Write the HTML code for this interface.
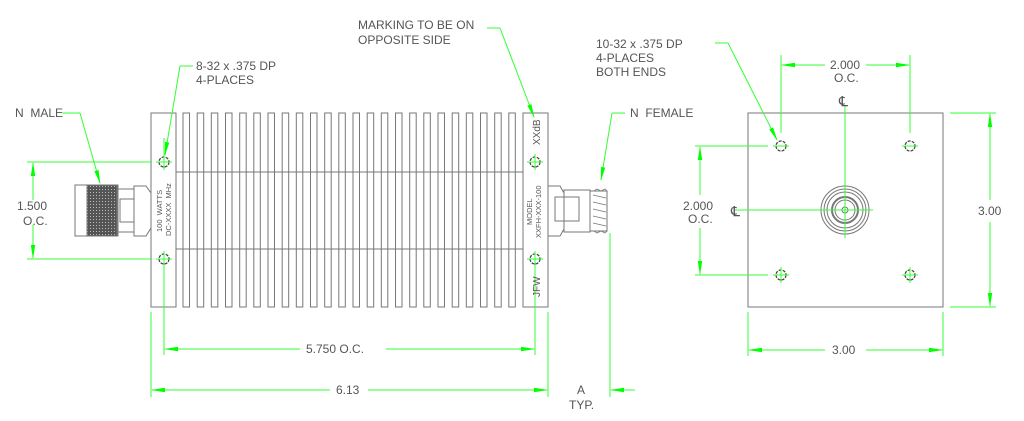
<!DOCTYPE html><html><head><meta charset="utf-8"><style>html,body{margin:0;padding:0;background:#fff}svg{display:block}text{font-family:"Liberation Sans",sans-serif;font-size:12px;fill:#555}</style></head><body>
<svg width="1024" height="421" viewBox="0 0 1024 421" xmlns="http://www.w3.org/2000/svg">
<defs>
<marker id="a" markerWidth="14" markerHeight="6" refX="13" refY="3" orient="auto" markerUnits="userSpaceOnUse"><path d="M0,0.8L14,3L0,5.2z" fill="#0f0"/></marker>
<pattern id="k" width="3" height="3" patternUnits="userSpaceOnUse"><rect width="3" height="3" fill="#555"/><rect width="1" height="1" fill="#bbb"/></pattern>
</defs>
<g fill="none" stroke="#777" stroke-width="1">
<rect x="151" y="113" width="25" height="194"/>
<rect x="523" y="113" width="25" height="194"/>
<g>
<rect x="183" y="113" width="6.5" height="194"/><rect x="197.2" y="113" width="6.5" height="194"/><rect x="211.3" y="113" width="6.5" height="194"/><rect x="225.5" y="113" width="6.5" height="194"/><rect x="239.7" y="113" width="6.5" height="194"/><rect x="253.8" y="113" width="6.5" height="194"/><rect x="268" y="113" width="6.5" height="194"/><rect x="282.2" y="113" width="6.5" height="194"/><rect x="296.3" y="113" width="6.5" height="194"/><rect x="310.5" y="113" width="6.5" height="194"/><rect x="324.7" y="113" width="6.5" height="194"/><rect x="338.8" y="113" width="6.5" height="194"/><rect x="353" y="113" width="6.5" height="194"/><rect x="367.2" y="113" width="6.5" height="194"/><rect x="381.3" y="113" width="6.5" height="194"/><rect x="395.5" y="113" width="6.5" height="194"/><rect x="409.7" y="113" width="6.5" height="194"/><rect x="423.8" y="113" width="6.5" height="194"/><rect x="438" y="113" width="6.5" height="194"/><rect x="452.2" y="113" width="6.5" height="194"/><rect x="466.3" y="113" width="6.5" height="194"/><rect x="480.5" y="113" width="6.5" height="194"/><rect x="494.7" y="113" width="6.5" height="194"/><rect x="508.8" y="113" width="6.5" height="194"/>
</g>
<line x1="176" y1="172" x2="523" y2="172"/><line x1="176" y1="249" x2="523" y2="249"/>
<rect x="75" y="185" width="43" height="51"/>
<rect x="87" y="185" width="30" height="51" fill="url(#k)"/>
<rect x="118" y="189" width="16" height="43"/>
<rect x="120" y="199" width="14" height="23"/>
<path d="M134,186L146,186L151,193L151,228L146,236L134,236z"/>
<path d="M548,186L560,186L564,193L564,229L560,236L548,236z"/>
<rect x="555" y="197" width="9" height="24"/><rect x="555" y="197" width="24" height="24"/>
<rect x="564" y="190" width="26" height="42"/>
<rect x="590" y="191" width="17" height="40"/>
<path d="M594,191L597,189L601,191L605,189L607,191M594,231L597,233L601,231L605,233L607,231M593,195L606,198M593,202L606,205M593,209L606,212M593,216L606,219M593,223L606,226" stroke-width="0.8"/>
<rect x="748" y="113" width="195" height="194"/>
<circle cx="845" cy="210" r="24"/><circle cx="845" cy="210" r="21"/><circle cx="845" cy="210" r="18"/><circle cx="845" cy="210" r="13" stroke-width="2"/><circle cx="845" cy="210" r="10"/><circle cx="845" cy="210" r="3"/>
<g stroke="#444" stroke-width="1.3" stroke-dasharray="3,1.2"><circle cx="164" cy="162" r="5"/><circle cx="164" cy="259" r="5"/><circle cx="535" cy="162" r="5"/><circle cx="535" cy="259" r="5"/><circle cx="781" cy="146" r="5"/><circle cx="910" cy="146" r="5"/><circle cx="781" cy="275" r="5"/><circle cx="910" cy="275" r="5"/></g>
</g>
<g stroke="#3f3" stroke-width="1" fill="none">
<path d="M156,162h16M164,154v16M156,259h16M164,251v16M527,162h16M535,154v16M527,259h16M535,251v16M773,146h16M902,146h16M773,275h16M781,267v16M902,275h16M910,267v16"/>
<path d="M27,162H152M27,259H152"/>
<line x1="33" y1="200" x2="33" y2="163" marker-end="url(#a)"/>
<line x1="33" y1="225" x2="33" y2="258" marker-end="url(#a)"/>
<path d="M164,267V355M151,312V397M535,267V355M548,312V397M610,233V397M164,154V138"/>
<line x1="300" y1="349" x2="165" y2="349" marker-end="url(#a)"/>
<line x1="386" y1="349" x2="534" y2="349" marker-end="url(#a)"/>
<line x1="330" y1="390" x2="152" y2="390" marker-end="url(#a)"/>
<line x1="368" y1="390" x2="547" y2="390" marker-end="url(#a)"/>
<line x1="635" y1="390" x2="611" y2="390" marker-end="url(#a)"/>
<path d="M62,113H80"/><line x1="80" y1="113" x2="100" y2="183" marker-end="url(#a)"/>
<path d="M193,66H180"/><line x1="180" y1="66" x2="165" y2="155" marker-end="url(#a)"/>
<path d="M487,28H500"/><line x1="500" y1="28" x2="534" y2="117" marker-end="url(#a)"/>
<path d="M625,113H612"/><line x1="612" y1="113" x2="601" y2="180" marker-end="url(#a)"/>
<path d="M715,43H728"/><line x1="728" y1="43" x2="777" y2="140" marker-end="url(#a)"/>
<path d="M845,106V238M735,210H873M781,55V133M910,55V133M695,146H768M695,275H768M950,113H996M950,307H996M748,312V356M943,312V356"/>
<line x1="825" y1="65" x2="782" y2="65" marker-end="url(#a)"/>
<line x1="866" y1="65" x2="909" y2="65" marker-end="url(#a)"/>
<line x1="700" y1="195" x2="700" y2="147" marker-end="url(#a)"/>
<line x1="700" y1="228" x2="700" y2="274" marker-end="url(#a)"/>
<line x1="990" y1="200" x2="990" y2="114" marker-end="url(#a)"/>
<line x1="990" y1="222" x2="990" y2="306" marker-end="url(#a)"/>
<line x1="825" y1="350" x2="749" y2="350" marker-end="url(#a)"/>
<line x1="866" y1="350" x2="942" y2="350" marker-end="url(#a)"/>
</g>
<text x="15" y="117">N&#160;&#160;MALE</text>
<text x="196" y="70">8-32 x .375 DP</text><text x="196" y="84">4-PLACES</text>
<text x="358" y="29">MARKING TO BE ON</text><text x="358" y="44">OPPOSITE SIDE</text>
<text x="630" y="117">N&#160;&#160;FEMALE</text>
<text x="596" y="48">10-32 x .375 DP</text><text x="596" y="62">4-PLACES</text><text x="596" y="76">BOTH ENDS</text>
<text x="17" y="210">1.500</text><text x="23" y="225">O.C.</text>
<text x="306" y="353">5.750 O.C.</text>
<text x="336" y="394">6.13</text>
<text x="577" y="394">A</text><text x="569" y="409">TYP.</text>
<text x="830" y="69">2.000</text><text x="834" y="82">O.C.</text>
<text x="683" y="210">2.000</text><text x="688" y="223">O.C.</text>
<text x="978" y="215">3.00</text>
<text x="832" y="354">3.00</text>
<text x="839" y="106" style="font-size:14px">℄</text><text x="731" y="216" style="font-size:14px">℄</text>
<text transform="translate(162,232) rotate(-90)" style="font-size:7.5px">100&#160;&#160;WATTS</text>
<text transform="translate(171,236) rotate(-90)" style="font-size:7.5px">DC-XXXX&#160;&#160;MHz</text>
<text transform="translate(532,225) rotate(-90)" style="font-size:7.5px">MODEL</text>
<text transform="translate(541,238) rotate(-90)" style="font-size:7.5px">XXFH-XXX-100</text>
<text transform="translate(540,145) rotate(-90)" style="font-size:10px">XXdB</text>
<text transform="translate(540,297) rotate(-90)" style="font-size:10px">JFW</text>
</svg>
</body></html>
